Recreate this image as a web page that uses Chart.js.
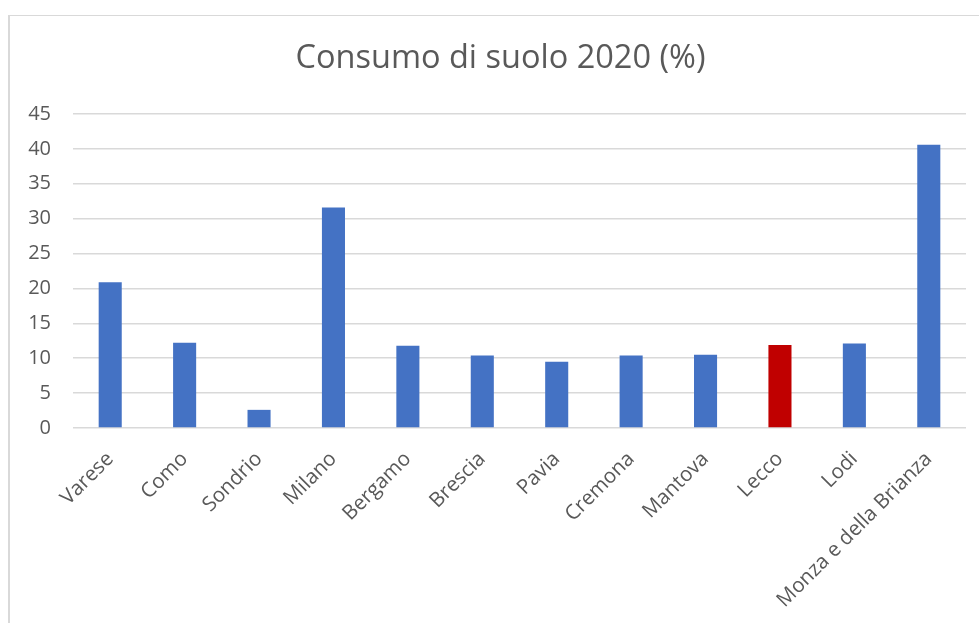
<!DOCTYPE html>
<html>
<head>
<meta charset="utf-8">
<script src="https://cdn.jsdelivr.net/npm/chart.js@4.4.1/dist/chart.umd.min.js"></script>
<style>
  html, body { margin: 0; padding: 0; background: #fff; overflow: hidden; }
  #wrap { position: relative; width: 979px; height: 623px; }
  #frame {
    position: absolute; left: 8px; top: 15px; right: -5px; bottom: -5px;
    border-top: 1px solid #d9d9d9; border-left: 2px solid #d9d9d9;
  }
  canvas { position: absolute; left: 0; top: 0; }
</style>
</head>
<body>
<div id="wrap">
  <div id="frame"></div>
  <canvas id="chart" width="979" height="623"></canvas>
</div>
<script>
'use strict';

/* province data: soil consumption 2020 (%) */
const provinces = ['Varese', 'Como', 'Sondrio', 'Milano', 'Bergamo', 'Brescia', 'Pavia',
  'Cremona', 'Mantova', 'Lecco', 'Lodi', 'Monza e della Brianza'];
const consumo = [20.9, 12.2, 2.6, 31.6, 11.8, 10.4, 9.5, 10.4, 10.5, 11.9, 12.1, 40.6];
const yTicks = [0, 5, 10, 15, 20, 25, 30, 35, 40, 45];
const highlight = 'Lecco';

const BLUE = '#4472C4';
const RED = '#C00000';
const TEXT = '#595959';
const FONT = "'Open Sans', sans-serif";

// centre the title on the frame rather than on the canvas
const titleShift = {
  id: 'titleShift',
  afterLayout(chart) {
    if (chart.titleBlock) chart.titleBlock.left += 26;
  }
};

new Chart(document.getElementById('chart'), {
  type: 'bar',
  data: {
    labels: provinces,
    datasets: [{
      data: consumo,
      backgroundColor: provinces.map(p => p === highlight ? RED : BLUE),
      categoryPercentage: 1,
      barPercentage: 0.31,
    }]
  },
  plugins: [titleShift],
  options: {
    responsive: false,
    animation: false,
    layout: { padding: { left: 9, right: 13, top: 0, bottom: 0 } },
    plugins: {
      legend: { display: false },
      tooltip: { enabled: false },
      title: {
        display: true,
        text: 'Consumo di suolo 2020 (%)',
        color: TEXT,
        font: { family: FONT, size: 32.5, weight: 'normal' },
        padding: { top: 39, bottom: 36 }
      }
    },
    scales: {
      x: {
        grid: { display: false, drawTicks: false },
        border: { display: false },
        ticks: {
          color: TEXT,
          font: { family: FONT, size: 20.5 },
          minRotation: 45,
          maxRotation: 45,
          padding: 19,
          autoSkip: false
        },
        afterFit: axis => { axis.height = 195; }
      },
      y: {
        min: 0,
        max: 45,
        afterBuildTicks: axis => { axis.ticks = yTicks.map(v => ({ value: v })); },
        grid: { color: '#d9d9d9', lineWidth: 1.5, drawTicks: false },
        border: { display: false },
        ticks: {
          color: TEXT,
          font: { family: FONT, size: 20 },
          padding: 22
        },
        afterFit: axis => { axis.width = 64; }
      }
    }
  }
});
</script>
</body>
</html>
